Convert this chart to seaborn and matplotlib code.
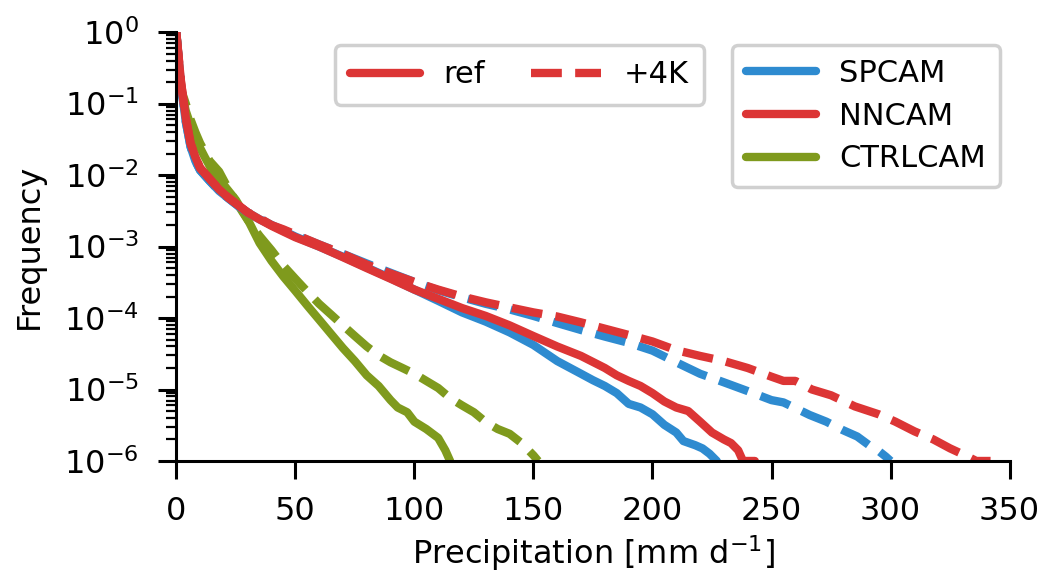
import numpy as np
import pandas as pd
import seaborn as sns
import matplotlib.pyplot as plt
from matplotlib.lines import Line2D

# --- data (precipitation [mm/d], frequency) ---
sp_ref_x = [0, 2, 4, 6, 8, 10, 14, 18, 22, 26, 30, 35, 40, 45, 50, 60, 70, 80, 90, 100,
            110, 120, 130, 140, 150, 160, 170, 175, 180, 185, 190, 195, 200, 205, 210,
            213, 218, 221, 224, 227]
sp_ref_y = [1.0, 1.78e-1, 5.6e-2, 2.5e-2, 1.58e-2, 1.17e-2, 8.3e-3, 6.0e-3, 4.7e-3, 3.7e-3,
            3.0e-3, 2.4e-3, 2.0e-3, 1.66e-3, 1.38e-3, 1.0e-3, 7.2e-4, 5.1e-4, 3.6e-4, 2.5e-4,
            1.74e-4, 1.2e-4, 8.9e-5, 6.3e-5, 4.2e-5, 2.5e-5, 1.66e-5, 1.35e-5, 1.12e-5, 8.9e-6,
            6.3e-6, 5.6e-6, 4.5e-6, 3.2e-6, 2.5e-6, 1.9e-6, 1.66e-6, 1.5e-6, 1.26e-6, 1.0e-6]

nn_ref_x = [0, 2, 4, 6, 8, 10, 14, 18, 22, 26, 30, 35, 40, 45, 50, 60, 70, 80, 90, 100,
            110, 120, 130, 140, 150, 160, 170, 180, 185, 190, 195, 200, 205, 210, 215,
            220, 225, 230, 233, 236, 238, 243]
nn_ref_y = [1.0, 2.0e-1, 6.3e-2, 2.8e-2, 1.8e-2, 1.26e-2, 8.9e-3, 6.3e-3, 4.8e-3, 3.8e-3,
            3.0e-3, 2.4e-3, 1.95e-3, 1.62e-3, 1.35e-3, 1.0e-3, 7.1e-4, 5.0e-4, 3.55e-4, 2.5e-4,
            1.86e-4, 1.38e-4, 1.07e-4, 7.9e-5, 5.6e-5, 4.0e-5, 2.95e-5, 2.0e-5, 1.58e-5, 1.32e-5,
            1.12e-5, 8.9e-6, 6.8e-6, 5.6e-6, 5.0e-6, 3.55e-6, 2.5e-6, 2.0e-6, 1.78e-6, 1.41e-6,
            1.0e-6, 1.0e-6]

ctrl_ref_x = [0, 2, 4, 6, 8, 10, 12, 15, 18, 21, 25, 30, 35, 40, 45, 50, 55, 60, 65, 70,
              75, 80, 85, 90, 93, 97, 100, 105, 110, 113, 115]
ctrl_ref_y = [1.0, 1.58e-1, 7.9e-2, 5.0e-2, 3.2e-2, 2.4e-2, 1.78e-2, 1.17e-2, 8.9e-3, 6.6e-3,
              4.5e-3, 2.4e-3, 1.12e-3, 6.3e-4, 3.8e-4, 2.4e-4, 1.5e-4, 9.5e-5, 6.0e-5, 3.8e-5,
              2.5e-5, 1.58e-5, 1.12e-5, 7.1e-6, 5.6e-6, 4.8e-6, 3.55e-6, 2.8e-6, 2.1e-6, 1.41e-6,
              1.0e-6]

sp_4k_x = [0, 2, 4, 6, 8, 10, 14, 18, 22, 26, 30, 35, 40, 45, 50, 60, 70, 80, 90, 100,
           110, 120, 130, 140, 150, 160, 170, 180, 190, 200, 210, 220, 230, 240, 250,
           255, 260, 266, 273, 280, 286, 291, 295, 298, 300]
sp_4k_y = [1.0, 1.78e-1, 5.6e-2, 2.5e-2, 1.58e-2, 1.17e-2, 8.3e-3, 6.0e-3, 4.7e-3, 3.7e-3,
           3.0e-3, 2.45e-3, 2.0e-3, 1.7e-3, 1.45e-3, 1.07e-3, 7.9e-4, 5.8e-4, 4.3e-4, 3.2e-4,
           2.45e-4, 1.95e-4, 1.58e-4, 1.32e-4, 1.07e-4, 8.5e-5, 6.8e-5, 5.5e-5, 4.5e-5, 3.5e-5,
           2.4e-5, 1.66e-5, 1.26e-5, 9.5e-6, 7.1e-6, 6.6e-6, 5.5e-6, 4.4e-6, 3.55e-6, 2.7e-6,
           2.2e-6, 1.66e-6, 1.38e-6, 1.15e-6, 1.0e-6]

nn_4k_x = [0, 2, 4, 6, 8, 10, 14, 18, 22, 26, 30, 35, 40, 45, 50, 60, 70, 80, 90, 100,
           110, 120, 130, 140, 150, 160, 170, 180, 190, 200, 210, 220, 230, 240, 250,
           255, 260, 267, 275, 285, 295, 302, 310, 318, 325, 332, 336, 342]
nn_4k_y = [1.0, 2.0e-1, 6.3e-2, 2.8e-2, 1.8e-2, 1.26e-2, 8.9e-3, 6.3e-3, 4.8e-3, 3.8e-3,
           3.0e-3, 2.5e-3, 2.0e-3, 1.74e-3, 1.48e-3, 1.07e-3, 7.9e-4, 5.6e-4, 4.2e-4, 3.2e-4,
           2.5e-4, 2.0e-4, 1.66e-4, 1.41e-4, 1.2e-4, 1.05e-4, 8.7e-5, 7.1e-5, 5.8e-5, 4.7e-5,
           3.55e-5, 2.95e-5, 2.5e-5, 2.0e-5, 1.51e-5, 1.32e-5, 1.32e-5, 1.0e-5, 8.3e-6, 5.8e-6,
           4.5e-6, 3.55e-6, 2.6e-6, 2.0e-6, 1.5e-6, 1.17e-6, 1.0e-6, 1.0e-6]

ctrl_4k_x = [0, 2, 4, 6, 8, 10, 14, 18, 22, 26, 30, 35, 40, 45, 50, 55, 60, 65, 70, 75,
             80, 85, 90, 95, 100, 105, 110, 115, 120, 125, 130, 135, 140, 145, 150, 152]
ctrl_4k_y = [1.0, 1.58e-1, 1.0e-1, 6.0e-2, 4.0e-2, 2.8e-2, 1.58e-2, 1.12e-2, 6.3e-3, 3.8e-3,
             2.35e-3, 1.41e-3, 8.9e-4, 5.4e-4, 3.55e-4, 2.35e-4, 1.58e-4, 1.12e-4, 7.9e-5, 5.6e-5,
             4.0e-5, 3.0e-5, 2.4e-5, 2.0e-5, 1.66e-5, 1.32e-5, 1.05e-5, 7.6e-6, 6.0e-6, 4.8e-6,
             3.5e-6, 2.8e-6, 2.4e-6, 1.78e-6, 1.2e-6, 1.0e-6]

models = ["SPCAM", "NNCAM", "CTRLCAM"]
colors = {"SPCAM": "#2e8bd0", "NNCAM": "#dc3535", "CTRLCAM": "#7f9a1d"}

series = [
    ("CTRLCAM", "ref", ctrl_ref_x, ctrl_ref_y),
    ("CTRLCAM", "+4K", ctrl_4k_x, ctrl_4k_y),
    ("SPCAM", "ref", sp_ref_x, sp_ref_y),
    ("SPCAM", "+4K", sp_4k_x, sp_4k_y),
    ("NNCAM", "ref", nn_ref_x, nn_ref_y),
    ("NNCAM", "+4K", nn_4k_x, nn_4k_y),
]

sns.set_style("ticks")
plt.rcParams['font.family'] = ['DejaVu Sans']
plt.rcParams.update({"text.color": "black", "axes.labelcolor": "black",
                     "xtick.color": "black", "ytick.color": "black"})
fs = 23
lfs = 22

fig = plt.figure(figsize=(10.43, 5.85), dpi=100)
ax = fig.add_axes([0.169, 0.212, 0.799, 0.733])

lw = 6
for model, scen, xs, ys in series:
    df = pd.DataFrame({"x": xs, "y": ys})
    sns.lineplot(data=df, x="x", y="y", ax=ax, color=colors[model], lw=lw,
                 linestyle="-" if scen == "ref" else "--", legend=False,
                 estimator=None, sort=False)

ax.set_yscale("log")
ax.set_ylim(1e-6, 1)
ax.set_xlim(0, 350)
ax.set_xticks([0, 50, 100, 150, 200, 250, 300, 350])
ax.set_yticks([1e-6, 1e-5, 1e-4, 1e-3, 1e-2, 1e-1, 1])
ax.set_xlabel("Precipitation [mm d$^{-1}$]", fontsize=fs, labelpad=5)
ax.set_ylabel("Frequency", fontsize=fs, labelpad=14)
ax.tick_params(axis="x", which="major", labelsize=fs, width=2.2, length=13, pad=12)
ax.tick_params(axis="y", which="major", labelsize=fs, width=2.2, length=13, pad=14)
ax.tick_params(axis="y", which="minor", width=1.6, length=7)
for sp in ["left", "bottom"]:
    ax.spines[sp].set_linewidth(2.2)
    ax.spines[sp].set_color("black")
sns.despine(ax=ax)

# legend for scenario
h1 = [Line2D([], [], color=colors["NNCAM"], lw=lw, ls="-"),
      Line2D([], [], color=colors["NNCAM"], lw=lw, ls="--")]
leg1 = fig.legend(h1, ["ref", "+4K"], ncol=2, loc="upper left",
                  bbox_to_anchor=(0.321, 0.923), bbox_transform=fig.transFigure,
                  fontsize=lfs, handlelength=2.3, handletextpad=0.75, columnspacing=1.5,
                  borderaxespad=0, borderpad=0.5,
                  frameon=True, fancybox=True, edgecolor="#d0d0d0", framealpha=1)
leg1.get_frame().set_linewidth(2.5)

# legend for model
h2 = [Line2D([], [], color=colors[m], lw=lw) for m in models]
leg2 = fig.legend(h2, models, loc="upper left",
                  bbox_to_anchor=(0.702, 0.923), bbox_transform=fig.transFigure,
                  fontsize=lfs, handlelength=2.3, handletextpad=0.75, borderaxespad=0,
                  labelspacing=0.45, borderpad=0.45,
                  frameon=True, fancybox=True, edgecolor="#d0d0d0", framealpha=1)
leg2.get_frame().set_linewidth(2.5)

fig.savefig("out.png", dpi=100)
